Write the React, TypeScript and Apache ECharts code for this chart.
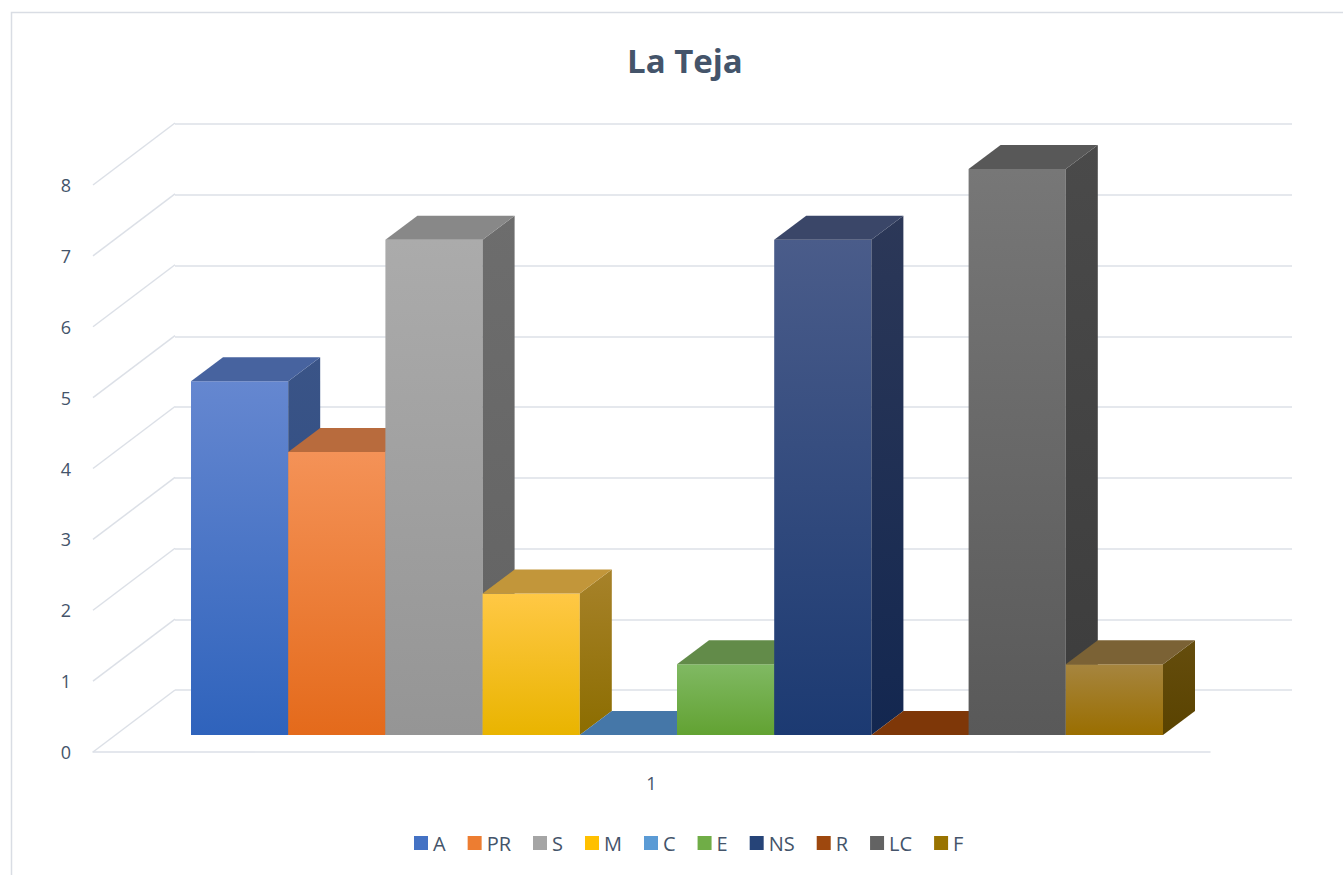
import React, { useEffect, useRef } from "react";
import * as echarts from "echarts";

const title = "La Teja";
const categories = ["1"];
const seriesNames = ["A", "PR", "S", "M", "C", "E", "NS", "R", "LC", "F"];
const seriesValues = [5, 4, 7, 2, 0, 1, 7, 0, 8, 1];
const yTicks = [0, 1, 2, 3, 4, 5, 6, 7, 8];
const legendColors = ["#4472c4", "#ed7d31", "#a5a5a5", "#ffc000", "#5b9bd5", "#70ad47", "#264478", "#9e480e", "#636363", "#997300"];
const frontColors = [
  ["#6587d0", "#2f63bc"], ["#f49257", "#e46a1b"], ["#ababab", "#959595"], ["#ffc845", "#e9b400"], ["#6da3d9", "#4f8bc7"],
  ["#80b963", "#62a232"], ["#4a5c8a", "#1c3a72"], ["#b5602a", "#9a4509"], ["#777777", "#595959"], ["#a6853f", "#9a6e00"],
];
const topColors = ["#47639f", "#b86b3d", "#888888", "#c2963a", "#4577a8", "#628b49", "#3a4668", "#7e3708", "#585858", "#7b6235"];
const sideColors = [
  ["#3a5487", "#2b4a80"], ["#a85a2a", "#9a4e14"], ["#6d6d6d", "#626262"], ["#a7822a", "#8c6d00"], ["#3d6d9c", "#2f5f8f"],
  ["#55803b", "#487528"], ["#2c3858", "#132750"], ["#6e300a", "#5e2806"], ["#4a4a4a", "#3c3c3c"], ["#654d0d", "#5a4300"],
];

const BAR_DX = 32;
const BAR_DY = 24;
const FLOOR_DX = 82;
const FLOOR_DY = 62;
const TEXT = "#44546a";
const GRID_LINE = "#dce0e7";
const FONT = "'Open Sans', 'Noto Sans', sans-serif";

const vgrad = (c: string[]) => ({
  type: "linear", x: 0, y: 0, x2: 0, y2: 1,
  colorStops: [{ offset: 0, color: c[0] }, { offset: 1, color: c[1] }],
});

export default function App() {
  const ref = useRef<HTMLDivElement>(null);
  useEffect(() => {
    if (!ref.current) return;
    const chart = echarts.init(ref.current, null, { renderer: "svg" });
    const n = seriesNames.length;
    const barSeries = seriesNames.map((name, idx) => ({
      name,
      type: "custom",
      xAxisIndex: 0,
      yAxisIndex: 0,
      itemStyle: { color: legendColors[idx] },
      data: [[0, seriesValues[idx]]],
      renderItem: (params: any, api: any) => {
        const i = params.seriesIndex;
        const v = api.value(1);
        const base = api.coord([api.value(0), 0]);
        const top = api.coord([api.value(0), v]);
        const band = api.size([1, 0])[0];
        const w = band / n;
        const x0 = base[0] - band / 2 + i * w;
        const x1 = x0 + w;
        const yb = base[1];
        const yt = top[1];
        return {
          type: "group",
          children: [
            {
              type: "polygon",
              shape: { points: [[x0, yt], [x1, yt], [x1, yb], [x0, yb]] },
              style: { fill: vgrad(frontColors[i]) },
            },
            {
              type: "polygon",
              shape: { points: [[x1, yt], [x1 + BAR_DX, yt - BAR_DY], [x1 + BAR_DX, yb - BAR_DY], [x1, yb]] },
              style: { fill: vgrad(sideColors[i]) },
            },
            {
              type: "polygon",
              shape: { points: [[x0, yt], [x1, yt], [x1 + BAR_DX, yt - BAR_DY], [x0 + BAR_DX, yt - BAR_DY]] },
              style: { fill: topColors[i] },
            },
          ],
        };
      },
    }));

    const diagSeries = {
      name: "_diag",
      type: "custom",
      xAxisIndex: 2,
      yAxisIndex: 2,
      silent: true,
      z: 1,
      data: yTicks.map((t) => [0, t]),
      renderItem: (params: any, api: any) => {
        const p = api.coord([api.value(0), api.value(1)]);
        const band = api.size([1, 0])[0];
        const x = p[0] - band / 2;
        return {
          type: "line",
          shape: { x1: x, y1: p[1], x2: x + FLOOR_DX, y2: p[1] - FLOOR_DY },
          style: { stroke: GRID_LINE, lineWidth: 1.5 },
        };
      },
    };

    chart.setOption({
      animation: false,
      color: legendColors,
      title: {
        text: title,
        left: 622,
        top: 39,
        textStyle: { fontSize: 33, fontWeight: "bold", color: TEXT, fontFamily: FONT },
      },
      legend: {
        data: seriesNames,
        left: 409,
        top: 828,
        icon: "rect",
        itemWidth: 14,
        itemHeight: 14,
        itemGap: 22,
        textStyle: { fontSize: 20, color: TEXT, fontFamily: FONT },
      },
      graphic: [
        {
          type: "rect",
          shape: { x: 11.5, y: 12.5, width: 1400, height: 900 },
          style: { fill: "none", stroke: "#d9dde4", lineWidth: 1.5 },
          silent: true,
          z: -10,
        },
      ],
      grid: [
        { left: 191, right: 180, top: 169, bottom: 140 },
        { left: 175, right: 51, top: 124, bottom: 185 },
        { left: 93, right: 133, top: 185, bottom: 123 },
      ],
      xAxis: [
        { gridIndex: 0, type: "category", data: categories, show: false },
        { gridIndex: 1, type: "value", min: 0, max: 1, show: false },
        {
          gridIndex: 2,
          type: "category",
          data: categories,
          axisLine: { show: true, lineStyle: { color: GRID_LINE, width: 1.5 } },
          axisTick: { show: false },
          axisLabel: { color: TEXT, fontSize: 18, fontFamily: FONT, margin: 22 },
        },
      ],
      yAxis: [
        { gridIndex: 0, type: "value", min: 0, max: 8, show: false },
        {
          gridIndex: 1,
          type: "value",
          min: 0,
          max: 8,
          interval: 1,
          axisLine: { show: false },
          axisTick: { show: false },
          axisLabel: { show: false },
          splitLine: { show: true, lineStyle: { color: GRID_LINE, width: 1.5 } },
        },
        {
          gridIndex: 2,
          type: "value",
          min: 0,
          max: 8,
          interval: 1,
          axisLine: { show: false },
          axisTick: { show: false },
          splitLine: { show: false },
          axisLabel: { color: TEXT, fontSize: 18, fontFamily: FONT, margin: 22 },
        },
      ],
      series: [...barSeries, diagSeries],
    });
    return () => chart.dispose();
  }, []);
  return <div ref={ref} style={{ position: "absolute", left: 0, top: 0, width: 1343, height: 875 }} />;
}
